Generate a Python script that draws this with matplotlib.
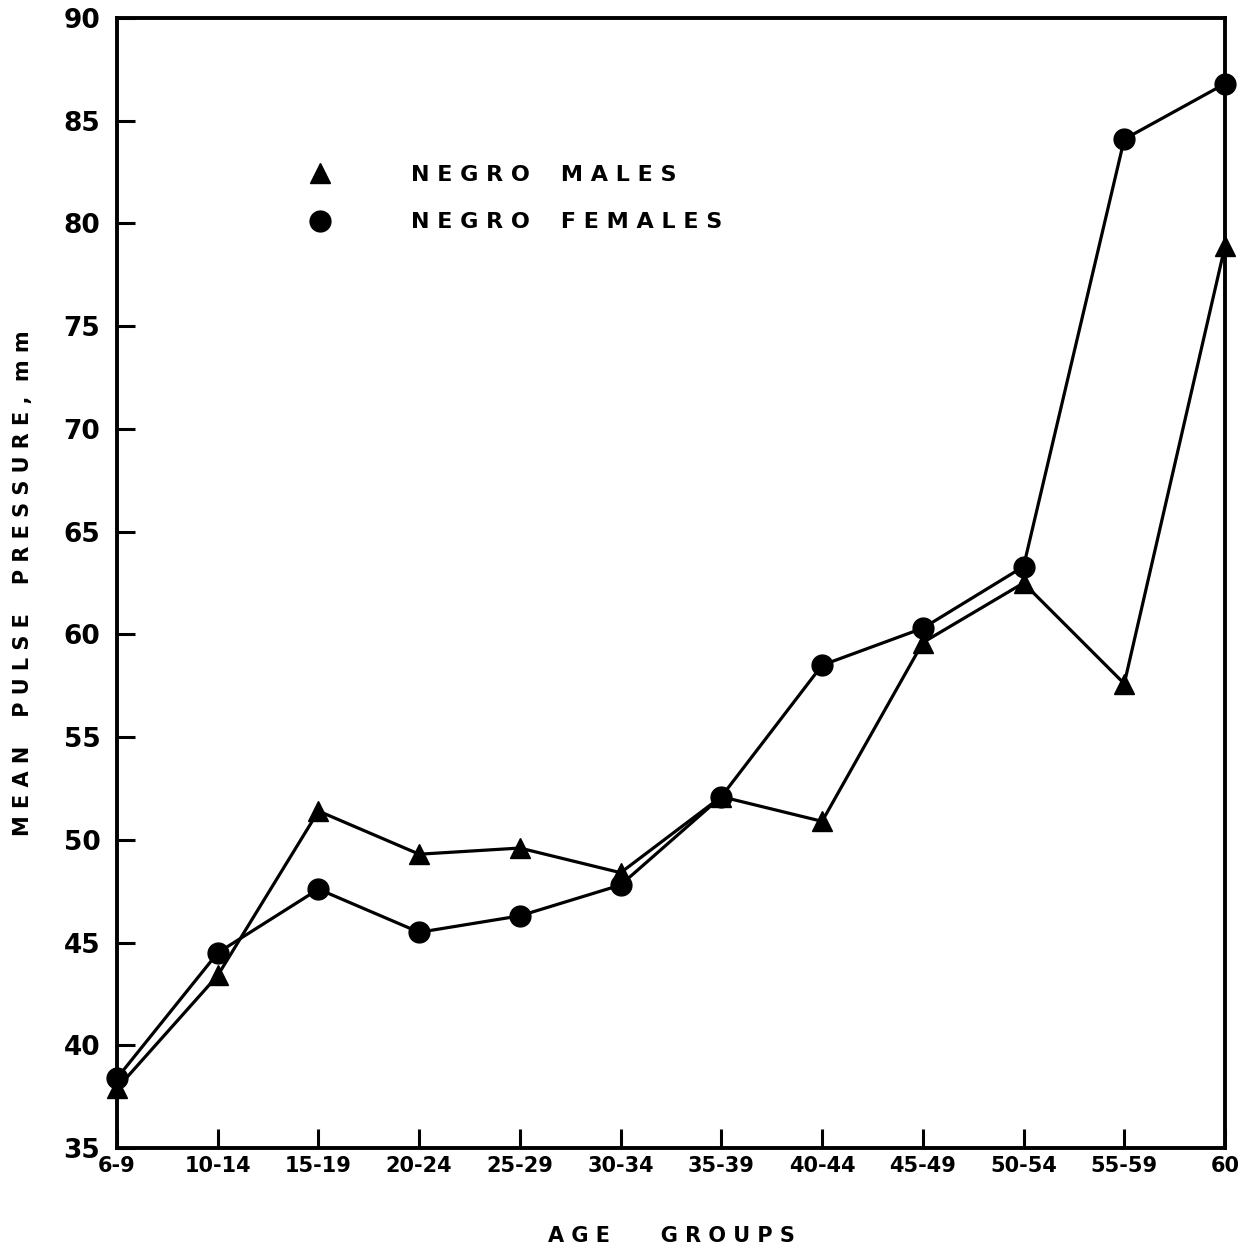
import matplotlib.pyplot as plt

age_groups = ["6-9", "10-14", "15-19", "20-24", "25-29", "30-34",
              "35-39", "40-44", "45-49", "50-54", "55-59", "60"]
males = [37.9, 43.4, 51.4, 49.3, 49.6, 48.4, 52.1, 50.9, 59.6, 62.5, 57.6, 78.9]
females = [38.4, 44.5, 47.6, 45.5, 46.3, 47.8, 52.1, 58.5, 60.3, 63.3, 84.1, 86.8]
yticks = [35, 40, 45, 50, 55, 60, 65, 70, 75, 80, 85, 90]

plt.rcParams['font.family'] = 'DejaVu Sans'
plt.rcParams['font.weight'] = 'bold'

fig = plt.figure(figsize=(12.5, 12.57), dpi=100)
ax = fig.add_axes([0.0936, 0.0867, 0.8864, 0.899])

x = list(range(len(age_groups)))
ax.plot(x, males, color='black', lw=2.3, marker='^', ms=15, clip_on=False,
        zorder=3, label="N E G R O    M A L E S")
ax.plot(x, females, color='black', lw=2.3, marker='o', ms=15, clip_on=False,
        zorder=3, label="N E G R O    F E M A L E S")

ax.set_xlim(0, len(age_groups) - 1)
ax.set_ylim(35, 90)
ax.set_xticks(x)
ax.set_xticklabels(age_groups, fontsize=15, fontweight='bold')
ax.set_yticks(yticks)
ax.set_yticklabels([str(v) for v in yticks], fontsize=19)
ax.tick_params(axis='y', direction='in', length=13, width=2.2, pad=12)
ax.tick_params(axis='x', direction='in', length=14, width=2.2, pad=6)
for s in ax.spines.values():
    s.set_linewidth(2.8)

ax.set_ylabel("M E A N    P U L S E    P R E S S U R E ,  m m", fontsize=15,
              fontweight='bold', labelpad=22)
ax.set_xlabel("A G E       G R O U P S", fontsize=15, fontweight='bold',
              labelpad=36)

leg = ax.legend(loc='upper left', bbox_to_anchor=(0.155, 0.888), frameon=False,
                handlelength=1.0, handletextpad=3.6, labelspacing=1.25,
                prop={'size': 16, 'weight': 'bold'})
for line in leg.get_lines():
    line.set_linestyle('none')

fig.savefig("out.png", dpi=100)
